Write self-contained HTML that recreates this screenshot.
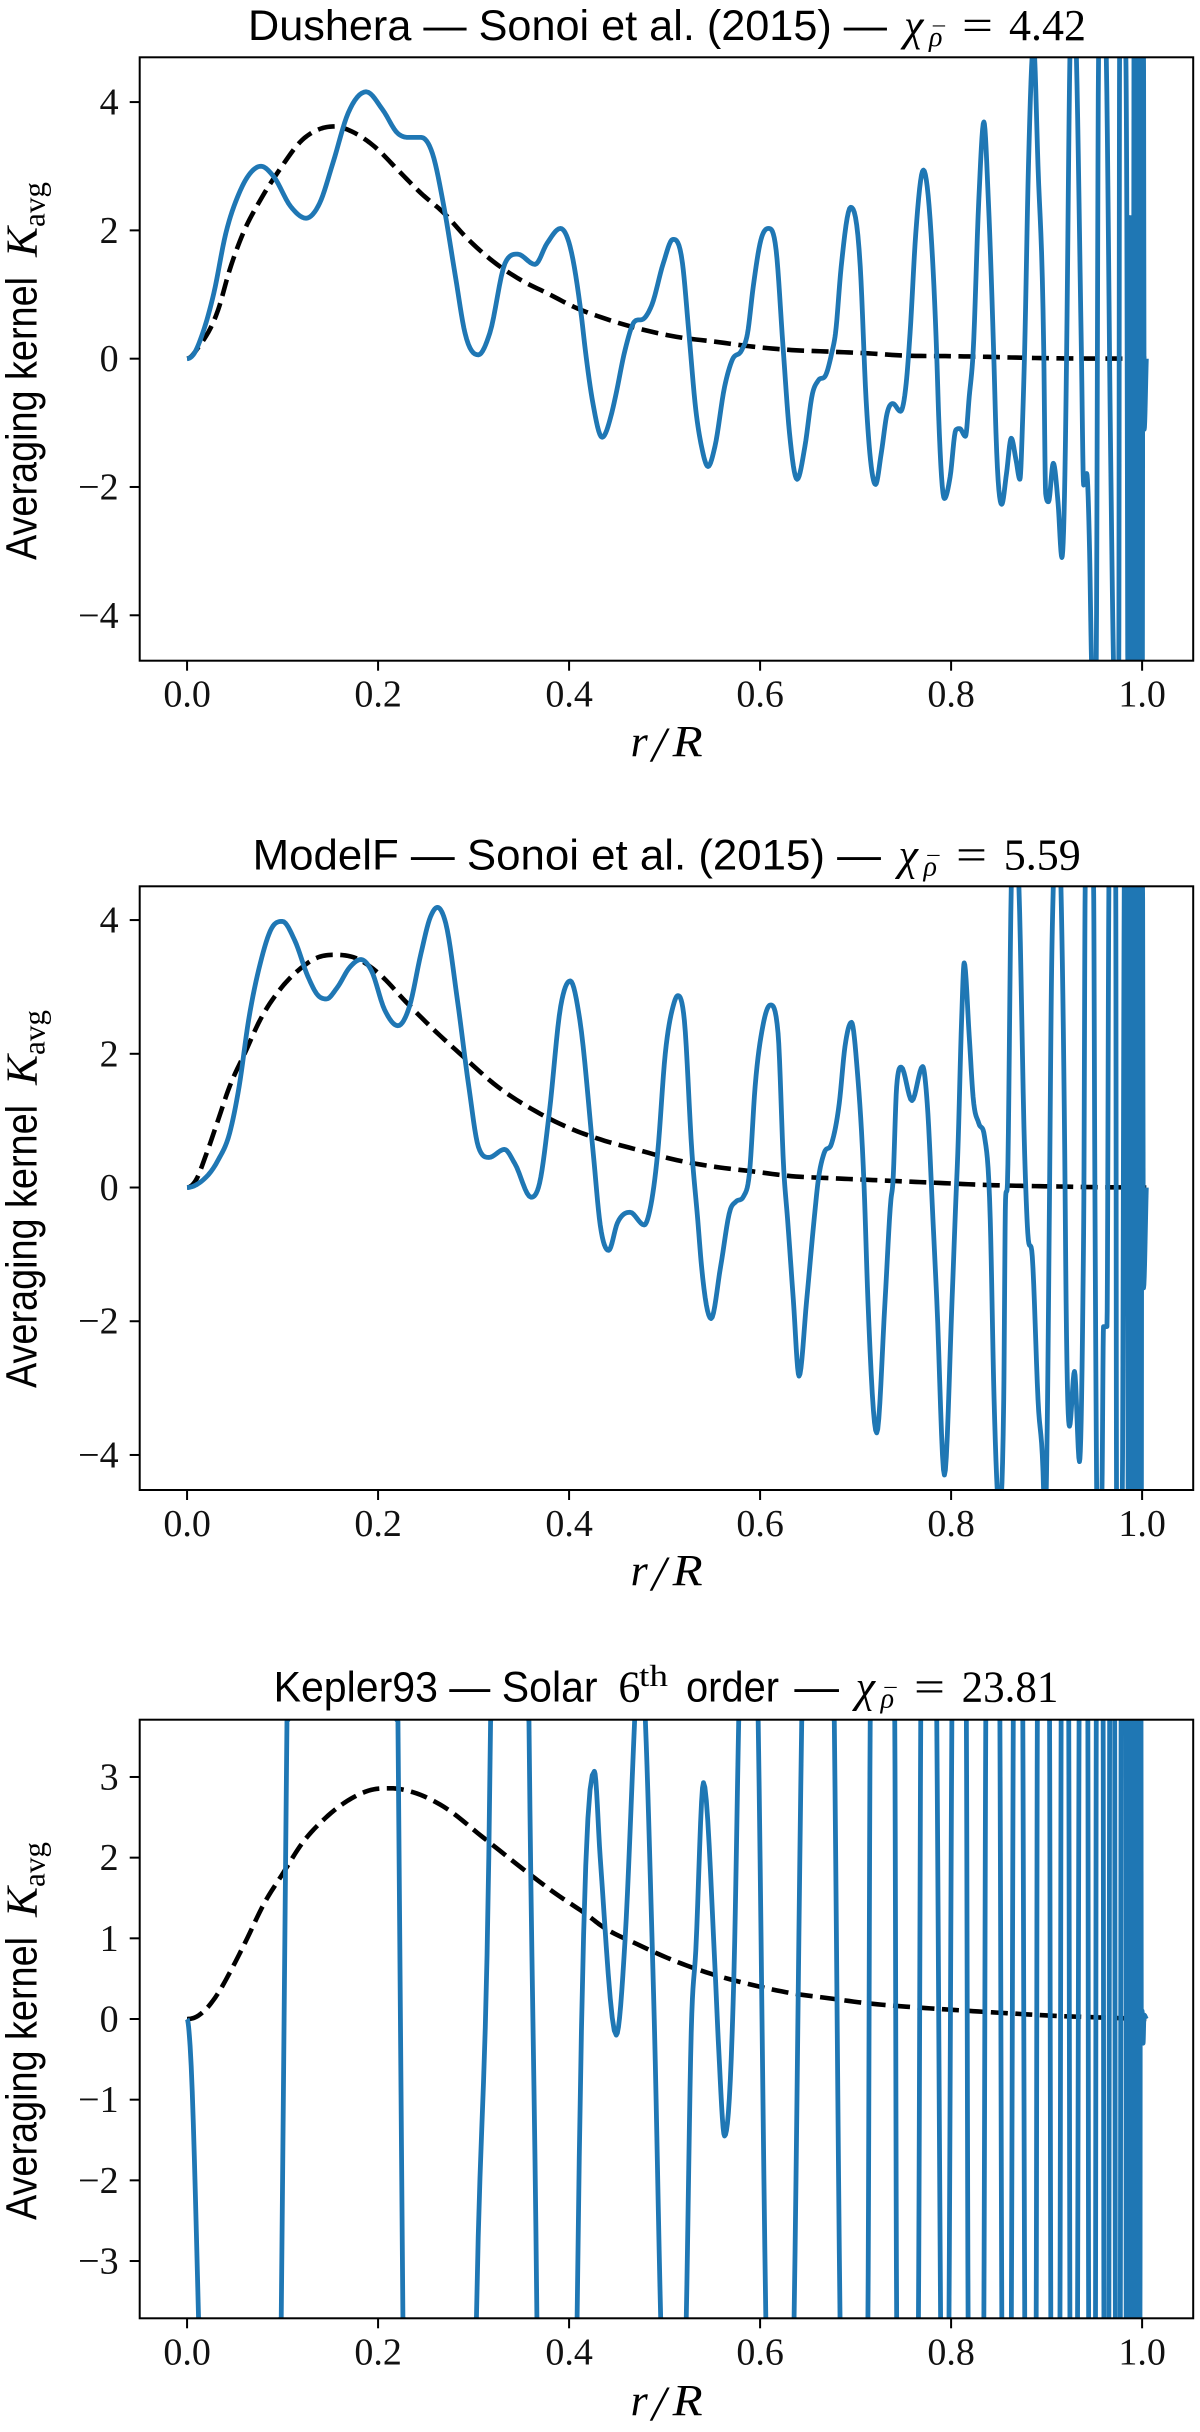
<!DOCTYPE html>
<html lang="en">
<head>
<meta charset="utf-8">
<title>Averaging kernels</title>
<style>
  html, body { margin: 0; padding: 0; background: #fff; width: 1200px; height: 2432px; overflow: hidden; }
  svg { display: block; }
  .sans { font-family: "Liberation Sans", sans-serif; fill: #000; }
  .serif { font-family: "Liberation Serif", serif; fill: #000; }
  .ital { font-family: "Liberation Serif", serif; font-style: italic; fill: #000; }
  .tick-label { font-family: "Liberation Serif", serif; font-size: 38px; fill: #111; }
</style>
</head>
<body>
<svg id="figure" xmlns="http://www.w3.org/2000/svg" width="1200" height="2432" viewBox="0 0 1200 2432">
  <rect x="0" y="0" width="1200" height="2432" fill="#fff"/>

  <g>
    <text class="sans" x="248" y="40" font-size="43" textLength="639" lengthAdjust="spacingAndGlyphs">Dushera — Sonoi et al. (2015) —</text>
    <text class="ital" x="904" y="40" font-size="44">χ</text>
    <text class="ital" x="929" y="46" font-size="28">ρ</text>
    <text class="ital" x="931" y="44" font-size="24">¯</text>
    <text class="serif" x="962" y="40" font-size="44" textLength="31" lengthAdjust="spacingAndGlyphs">=</text>
    <text class="serif" x="1009" y="40" font-size="44" textLength="77" lengthAdjust="spacingAndGlyphs">4.42</text>
  </g>
  <g transform="translate(36.4,560) rotate(-90)">
    <text class="sans" x="0" y="0" font-size="44" textLength="283" lengthAdjust="spacingAndGlyphs">Averaging kernel</text>
    <text class="ital" x="303" y="0" font-size="44" textLength="30" lengthAdjust="spacingAndGlyphs">K</text>
    <text class="serif" x="333" y="8" font-size="31" textLength="45" lengthAdjust="spacingAndGlyphs">avg</text>
  </g>
  <g>
    <text class="ital" x="630.6" y="756" font-size="44">r</text>
    <text class="ital" x="652" y="761" font-size="50">/</text>
    <text class="ital" x="672.7" y="756" font-size="44" textLength="30" lengthAdjust="spacingAndGlyphs">R</text>
  </g>

  <g>
    <text class="sans" x="252.6" y="869.3" font-size="43" textLength="628.4" lengthAdjust="spacingAndGlyphs">ModelF — Sonoi et al. (2015) —</text>
    <text class="ital" x="898.5" y="869.3" font-size="44">χ</text>
    <text class="ital" x="923.5" y="875.3" font-size="28">ρ</text>
    <text class="ital" x="925.5" y="873.3" font-size="24">¯</text>
    <text class="serif" x="956" y="869.3" font-size="44" textLength="31" lengthAdjust="spacingAndGlyphs">=</text>
    <text class="serif" x="1003.7" y="869.3" font-size="44" textLength="77" lengthAdjust="spacingAndGlyphs">5.59</text>
  </g>
  <g transform="translate(36.4,1388) rotate(-90)">
    <text class="sans" x="0" y="0" font-size="44" textLength="283" lengthAdjust="spacingAndGlyphs">Averaging kernel</text>
    <text class="ital" x="303" y="0" font-size="44" textLength="30" lengthAdjust="spacingAndGlyphs">K</text>
    <text class="serif" x="333" y="8" font-size="31" textLength="45" lengthAdjust="spacingAndGlyphs">avg</text>
  </g>
  <g>
    <text class="ital" x="630.6" y="1585" font-size="44">r</text>
    <text class="ital" x="652" y="1590" font-size="50">/</text>
    <text class="ital" x="672.7" y="1585" font-size="44" textLength="30" lengthAdjust="spacingAndGlyphs">R</text>
  </g>

  <g>
    <text class="sans" x="273.6" y="1701.7" font-size="43" textLength="324" lengthAdjust="spacingAndGlyphs">Kepler93 — Solar</text>
    <text class="serif" x="618.4" y="1701.7" font-size="44">6</text>
    <text class="serif" x="639" y="1686" font-size="31" textLength="29" lengthAdjust="spacingAndGlyphs">th</text>
    <text class="sans" x="686" y="1701.7" font-size="43" textLength="93" lengthAdjust="spacingAndGlyphs">order</text>
    <text class="sans" x="794.4" y="1701.7" font-size="43" textLength="44.6" lengthAdjust="spacingAndGlyphs">—</text>
    <text class="ital" x="855.6" y="1701.7" font-size="44">χ</text>
    <text class="ital" x="880.6" y="1707.7" font-size="28">ρ</text>
    <text class="ital" x="882.6" y="1705.7" font-size="24">¯</text>
    <text class="serif" x="914" y="1701.7" font-size="44" textLength="31" lengthAdjust="spacingAndGlyphs">=</text>
    <text class="serif" x="961.6" y="1701.7" font-size="44" textLength="96.8" lengthAdjust="spacingAndGlyphs">23.81</text>
  </g>
  <g transform="translate(36.4,2220) rotate(-90)">
    <text class="sans" x="0" y="0" font-size="44" textLength="283" lengthAdjust="spacingAndGlyphs">Averaging kernel</text>
    <text class="ital" x="303" y="0" font-size="44" textLength="30" lengthAdjust="spacingAndGlyphs">K</text>
    <text class="serif" x="333" y="8" font-size="31" textLength="45" lengthAdjust="spacingAndGlyphs">avg</text>
  </g>
  <g>
    <text class="ital" x="630.6" y="2415" font-size="44">r</text>
    <text class="ital" x="652" y="2420" font-size="50">/</text>
    <text class="ital" x="672.7" y="2415" font-size="44" textLength="30" lengthAdjust="spacingAndGlyphs">R</text>
  </g>

  <g id="panel-dushera"></g>
  <g id="panel-modelf"></g>
  <g id="panel-kepler93"></g>
</svg>

<script>
// ---- shared axis values ----
const xTickValues = [0, 0.2, 0.4, 0.6, 0.8, 1.0];
const xTickLabels = ["0.0", "0.2", "0.4", "0.6", "0.8", "1.0"];
const xLimits = [-0.0496, 1.0535];

// ---- Dushera ----
const dusheraYLimits = [-4.708, 4.698];
const dusheraYTicks = [-4, -2, 0, 2, 4];
const dusheraYTickLabels = ["\u22124", "\u22122", "0", "2", "4"];
const dusheraKernelR = [
  0,.0064,.0164,.028,.0405,.0545,.0645,.0774,.0906,.1086,
  .1246,.1387,.1527,.1687,.1876,.2048,.2208,.2309,.2449,.2569,
  .2689,.281,.291,.305,.317,.333,.346,.3643,.377,.391,
  .401,.413,.417,.425,.4346,.4446,.4486,.4586,.4686,.4787,
  .4867,.4987,.5087,.5187,.5255,.5327,.5387,.5455,.5527,.5628,
  .5708,.5808,.5868,.5928,.6008,.6088,.6168,.624,.6308,.6388,
  .6469,.6549,.6609,.6689,.6749,.6789,.6849,.6949,.7049,.711,
  .7149,.7209,.7269,.733,.739,.747,.753,.757,.763,.771,
  .779,.785,.787,.793,.799,.805,.809,.815,.819,.823,
  .829,.8343,.839,.845,.847,.853,.858,.863,.868,.872,
  .875,.877,.881,.8863,.891,.897,.899,.902,.907,.912,
  .916,.9196,.921,.9244,.9282,.9312,.9364,.9388,.942,.945,
  .947,.9505,.952,.9544,.958,.9625,.967,.97,.9735,.9756,
  .9764,.9785,.983,.984,.9855,.987,.9885,.9895,.9905,.9918,
  .9945,.9952,.996,.9968,.9976,.9984,.9992,1.0,1.0012,1.0022,1.0044
];
const dusheraKernelK = [
  0,.06,.4,1.02,1.95,2.58,2.86,3.0,2.84,2.37,
  2.19,2.42,3.05,3.83,4.16,3.88,3.51,3.45,3.45,3.2,
  2.37,1.28,.4,.06,.4,1.49,1.63,1.47,1.8,2.03,
  1.75,.65,.135,-.7,-1.225,-.85,-.59,.135,.58,.63,
  .84,1.49,1.86,1.49,.39,-.8,-1.37,-1.68,-1.37,-.44,
  -.02,.135,.39,1.12,1.85,2.03,1.69,.19,-1.16,-1.88,
  -1.37,-.54,-.34,-.25,.08,.39,1.43,2.36,1.43,-.64,
  -1.47,-1.96,-1.47,-.85,-.7,-.82,-.38,.39,1.95,2.94,
  1.95,.03,-.9,-2.18,-1.84,-1.11,-1.09,-1.21,-.59,.08,
  2.47,3.69,2.47,-.12,-1.16,-2.27,-1.79,-1.24,-1.58,-1.88,
  -.9,.13,3,4.9,3,.13,-2.1,-2.23,-1.63,-2.25,
  -3.1,-1.42,.135,4.7,6,4.7,.13,-1.97,-1.79,-3,
  -4.7,-5.5,-4.7,4.7,6,4.7,-1.42,-4.7,-6,-4.7,
  4.7,6,4.7,2.2,-7,2.2,-7,2.2,-7,7,
  7,-7,7,-7,7,-7,7,-7,7,-1.1,0
];
const dusheraTargetR = [
  0,.0124,.0325,.0445,.0585,.0766,.0966,.1206,.1407,.1547,
  .1727,.1968,.2208,.2449,.2689,.293,.321,.3491,.3771,.4092,
  .4326,.4727,.5127,.5528,.5928,.6328,.6729,.7129,.753,.794,
  .833,.873,.913,.953,1.0044
];
const dusheraTargetK = [
  0,.19,.76,1.38,1.95,2.47,2.94,3.41,3.59,3.62,
  3.54,3.3,2.94,2.58,2.27,1.88,1.51,1.23,1.02,.78,
  .65,.47,.34,.265,.187,.135,.11,.083,.047,.04,
  .03,.015,.005,.002,0
];

// ---- ModelF ----
const modelfYLimits = [-4.524, 4.505];
const modelfYTicks = [-4, -2, 0, 2, 4];
const modelfYTickLabels = ["\u22124", "\u22122", "0", "2", "4"];
const modelfKernelR = [
  0,.0124,.0325,.0445,.0545,.0645,.0766,.0886,.0998,.1126,
  .1267,.1367,.1459,.1567,.1707,.182,.1928,.2068,.2208,.2329,
  .2449,.2549,.2621,.2709,.283,.295,.305,.3162,.3323,.3431,
  .3603,.3691,.3792,.3912,.4012,.4112,.4253,.4326,.4414,.4506,
  .4638,.4787,.4847,.4927,.5007,.5087,.5139,.5207,.5287,.5347,
  .5387,.5487,.5587,.5688,.5748,.5828,.5888,.5948,.6028,.6108,
  .6188,.6248,.6288,.6348,.6408,.6488,.6569,.6609,.6669,.6749,
  .6829,.6889,.6957,.7017,.7089,.7129,.7221,.7309,.737,.739,
  .743,.7478,.759,.7702,.775,.781,.785,.793,.801,.805,
  .807,.811,.8137,.819,.823,.829,.835,.841,.845,.8503,
  .8551,.857,.859,.863,.866,.871,.877,.8803,.885,.891,
  .897,.898,.901,.903,.905,.907,.9105,.915,.919,.9204,
  .924,.9292,.9344,.938,.939,.9404,.9435,.9492,.9504,.952,
  .9524,.9545,.958,.9596,.9632,.9652,.967,.9724,.9732,.9745,
  .9793,.9813,.983,.984,.9858,.987,.988,.989,.9915,.9925,
  .993,.994,.995,.996,.997,.998,.999,1.0,1.0015,1.0044
];
const modelfKernelK = [
  0,.065,.41,.81,1.51,2.51,3.35,3.88,3.98,3.7,
  3.15,2.88,2.82,2.98,3.3,3.41,3.25,2.66,2.42,2.71,
  3.5,4.05,4.19,3.95,2.81,1.51,.61,.45,.57,.36,
  -.145,.065,1.11,2.71,3.09,2.51,.51,-.56,-.94,-.53,
  -.37,-.56,-.33,.51,2.0,2.7,2.87,2.5,.51,-.48,
  -1.18,-1.96,-1.18,-.33,-.21,-.13,.21,1.51,2.41,2.73,
  2.31,.26,-.48,-1.68,-2.82,-1.68,-.43,.11,.51,.66,
  1.26,2.11,2.47,1.76,.015,-1.68,-3.67,-1.68,-.18,.06,
  1.51,1.8,1.3,1.81,1.26,-.48,-1.68,-4.3,-1.68,-.18,
  .51,2.5,3.36,2.26,1.36,.96,.76,-.48,-3.17,-4.8,
  -3.17,-.18,.06,4.5,5.5,4.5,.51,-.68,-1.03,-3.17,
  -4.6,-5.2,-3.17,-.18,3,4.5,5.6,4.5,.51,-1.68,
  -3.57,-2.75,-4.1,-1.68,-.18,4.5,5.4,4.5,.51,-3.67,
  -4.5,-5.5,-4.5,-2.08,-2.08,4.5,6,4.5,-4.5,-6,
  -4.5,4.5,6,7,-7,7,-7,7,-7,7,
  -7,7,-7,7,-7,7,-7,7,-1.5,0
];
const modelfTargetR = [
  0,.0084,.0204,.0325,.0445,.0605,.0766,.0966,.1166,.1367,
  .1547,.1768,.2008,.2289,.2569,.289,.325,.3651,.4052,.4326,
  .4727,.5127,.5528,.5928,.6328,.6729,.7129,.753,.793,.833,
  .873,.913,.953,1.0044
];
const modelfTargetK = [
  0,.09,.51,1.01,1.51,2.01,2.51,2.95,3.25,3.44,
  3.48,3.43,3.2,2.78,2.38,1.96,1.51,1.14,.86,.72,
  .56,.41,.31,.24,.17,.14,.115,.09,.065,.04,
  .025,.015,.005,0
];

// ---- Kepler93 ----
const keplerYLimits = [-3.71, 3.71];
const keplerYTicks = [-3, -2, -1, 0, 1, 2, 3];
const keplerYTickLabels = ["\u22123", "\u22122", "\u22121", "0", "1", "2", "3"];
const keplerKernelR = [
  0,.0032,.012,.055,.0986,.1046,.16,.2208,.226,.265,
  .303,.3178,.338,.358,.3663,.387,.4084,.4265,.4326,.4494,
  .4586,.4686,.4735,.4799,.4867,.4895,.4959,.51,.5227,.5279,
  .5327,.5407,.5527,.5567,.5628,.5708,.5728,.5776,.5875,.598,
  .606,.62,.6356,.6436,.66,.6777,.6837,.698,.7129,.7153,
  .728,.741,.743,.754,.7658,.7682,.776,.785,.789,.793,
  .7978,.8008,.808,.816,.8178,.826,.8343,.8363,.844,.8511,
  .8531,.858,.8631,.8651,.87,.8751,.8771,.883,.8891,.8903,
  .897,.9031,.9044,.909,.914,.9152,.919,.9232,.9244,.928,
  .9324,.934,.939,.9432,.944,.948,.9512,.952,.956,.9592,
  .96,.963,.9652,.966,.969,.9713,.972,.975,.9772,.978,
  .9805,.983,.9835,.985,.986,.987,.988,.989,.99,.991,
  .992,.993,.994,.995,.996,.997,.9975,.9985,.9992,1.0,
  1.001,1.002,1.0044
];
const keplerKernelK = [
  0,-.34,-3.7,-40,-3.7,3.69,40,3.69,-3.7,-40,
  -3.7,3.69,40,3.69,-3.7,-40,-3.7,3.07,2,-.2,
  .98,3.69,5,3.69,1.06,-.16,-3.7,-8,-3.7,-.16,
  .855,2.93,.65,-.38,-1.45,-.16,.65,3.69,9,3.69,
  -3.7,-10,-3.7,3.69,10,3.69,-3.7,-10,-3.7,3.69,
  10,3.69,-3.7,-10,-3.7,3.69,10,3.69,-3.7,-10,
  -3.7,3.69,10,3.69,-3.7,-10,-3.7,3.69,10,3.69,
  -3.7,-10,-3.7,3.69,10,3.69,-3.7,-10,-3.7,3.69,
  10,3.69,-3.7,-10,-3.7,3.69,10,3.69,-3.7,-10,
  -3.7,3.69,10,3.69,-3.7,-10,-3.7,3.69,10,3.69,
  -3.7,-10,-3.7,3.69,10,3.69,-3.7,-10,-3.7,3.69,
  10,3.69,-8,8,-8,8,-8,8,-8,8,
  -8,8,-8,8,-8,8,-8,8,-.3,.1,
  -.3,.05,0
];
const keplerTargetR = [
  0,.0084,.0204,.0325,.0445,.0605,.0806,.1006,.1206,.1447,
  .1687,.1928,.2128,.2369,.2689,.309,.3571,.3852,.4212,.4326,
  .4727,.5127,.5528,.5928,.6328,.6729,.7129,.753,.793,.833,
  .873,.913,.953,1.0044
];
const keplerTargetK = [
  0,.02,.13,.32,.57,.94,1.43,1.81,2.18,2.49,
  2.71,2.84,2.86,2.81,2.63,2.26,1.81,1.56,1.27,1.165,
  .92,.71,.545,.42,.32,.256,.194,.153,.12,.09,
  .062,.037,.02,0
];

// ---- layout ----
const SVG_NS = "http://www.w3.org/2000/svg";
const plotLeft = 139.7;
const plotRight = 1193.2;
const BLUE = "#1f77b4";

function xScale(v) {
  return plotLeft + (v - xLimits[0]) / (xLimits[1] - xLimits[0]) * (plotRight - plotLeft);
}
function makeYScale(limits, top, bottom) {
  return function (v) {
    return bottom - (v - limits[0]) / (limits[1] - limits[0]) * (bottom - top);
  };
}
function make(tag) {
  return document.createElementNS(SVG_NS, tag);
}
// Smooth shape-preserving spline through the read values; samples outside the
// axes are held just beyond the frame (the clip hides them anyway).
function curvePath(rs, ks, yScale, top, bottom) {
  const n = Math.min(rs.length, ks.length);
  const px = [], py = [];
  for (let i = 0; i < n; i++) { px.push(xScale(rs[i])); py.push(yScale(ks[i])); }
  const sec = [];
  for (let i = 0; i < n - 1; i++) sec.push((py[i + 1] - py[i]) / (px[i + 1] - px[i]));
  const slope = [0];
  for (let i = 1; i < n - 1; i++) {
    if (sec[i - 1] * sec[i] <= 0) { slope.push(0); continue; }
    const h0 = px[i] - px[i - 1], h1 = px[i + 1] - px[i];
    const avg = (h1 * sec[i - 1] + h0 * sec[i]) / (h0 + h1);
    const limit = 3 * Math.min(Math.abs(sec[i - 1]), Math.abs(sec[i]));
    slope.push(Math.sign(avg) * Math.min(Math.abs(avg), limit));
  }
  slope.push(sec[n - 2]);
  const yMin = top - 8, yMax = bottom + 8;
  const steps = 8;
  let d = "M" + px[0].toFixed(2) + " " + py[0].toFixed(2);
  for (let i = 0; i < n - 1; i++) {
    const h = px[i + 1] - px[i];
    for (let s = 1; s <= steps; s++) {
      const t = s / steps, t2 = t * t, t3 = t2 * t;
      const y = (2 * t3 - 3 * t2 + 1) * py[i] + (t3 - 2 * t2 + t) * h * slope[i] +
        (-2 * t3 + 3 * t2) * py[i + 1] + (t3 - t2) * h * slope[i + 1];
      const cy = Math.max(yMin, Math.min(yMax, y));
      d += "L" + (px[i] + t * h).toFixed(2) + " " + cy.toFixed(2);
    }
  }
  return d;
}

function drawPanel(groupId, clipId, top, bottom, yLimits, yTicks, yLabels, kernelR, kernelK, targetR, targetK) {
  const group = document.getElementById(groupId);
  const yScale = makeYScale(yLimits, top, bottom);

  const clip = make("clipPath");
  clip.setAttribute("id", clipId);
  const clipRect = make("rect");
  clipRect.setAttribute("x", plotLeft);
  clipRect.setAttribute("y", top);
  clipRect.setAttribute("width", plotRight - plotLeft);
  clipRect.setAttribute("height", bottom - top);
  clip.appendChild(clipRect);
  group.appendChild(clip);

  const kernel = make("path");
  
  
  kernel.setAttribute("d", curvePath(kernelR, kernelK, yScale, top, bottom));
  kernel.setAttribute("fill", "none");
  kernel.setAttribute("stroke", BLUE);
  kernel.setAttribute("stroke-width", "4.8");
  kernel.setAttribute("stroke-linejoin", "round");
  kernel.setAttribute("clip-path", "url(#" + clipId + ")");

  const target = make("path");
  
  
  target.setAttribute("d", curvePath(targetR, targetK, yScale, top, bottom));
  target.setAttribute("fill", "none");
  target.setAttribute("stroke", "#000");
  target.setAttribute("stroke-width", "4.6");
  target.setAttribute("stroke-dasharray", "17 7.5");
  target.setAttribute("clip-path", "url(#" + clipId + ")");
  group.appendChild(target);
  group.appendChild(kernel);

  xTickValues.forEach(function (v, i) {
    const tick = make("line");
    
    
    tick.setAttribute("x1", xScale(v));
    tick.setAttribute("x2", xScale(v));
    tick.setAttribute("y1", bottom);
    tick.setAttribute("y2", bottom + 10);
    tick.setAttribute("stroke", "#000");
    tick.setAttribute("stroke-width", "2");
    group.appendChild(tick);

    const label = make("text");
    
    
    label.setAttribute("class", "tick-label");
    label.setAttribute("x", xScale(v));
    label.setAttribute("y", bottom + 46);
    label.setAttribute("text-anchor", "middle");
    label.textContent = xTickLabels[i];
    group.appendChild(label);
  });

  yTicks.forEach(function (v, i) {
    const tick = make("line");
    
    
    tick.setAttribute("x1", plotLeft - 10);
    tick.setAttribute("x2", plotLeft);
    tick.setAttribute("y1", yScale(v));
    tick.setAttribute("y2", yScale(v));
    tick.setAttribute("stroke", "#000");
    tick.setAttribute("stroke-width", "2");
    group.appendChild(tick);

    const label = make("text");
    
    
    label.setAttribute("class", "tick-label");
    label.setAttribute("x", 118.6);
    label.setAttribute("y", yScale(v) + 12.5);
    label.setAttribute("text-anchor", "end");
    label.textContent = yLabels[i];
    group.appendChild(label);
  });

  const frame = make("rect");
  
  
  frame.setAttribute("x", plotLeft);
  frame.setAttribute("y", top);
  frame.setAttribute("width", plotRight - plotLeft);
  frame.setAttribute("height", bottom - top);
  frame.setAttribute("fill", "none");
  frame.setAttribute("stroke", "#000");
  frame.setAttribute("stroke-width", "2");
  group.appendChild(frame);
}

drawPanel("panel-dushera", "clip-dushera", 57.3, 660.7, dusheraYLimits, dusheraYTicks, dusheraYTickLabels,
  dusheraKernelR, dusheraKernelK, dusheraTargetR, dusheraTargetK);
drawPanel("panel-modelf", "clip-modelf", 886.3, 1490, modelfYLimits, modelfYTicks, modelfYTickLabels,
  modelfKernelR, modelfKernelK, modelfTargetR, modelfTargetK);
drawPanel("panel-kepler93", "clip-kepler93", 1719.7, 2318.3, keplerYLimits, keplerYTicks, keplerYTickLabels,
  keplerKernelR, keplerKernelK, keplerTargetR, keplerTargetK);
</script>
</body>
</html>
